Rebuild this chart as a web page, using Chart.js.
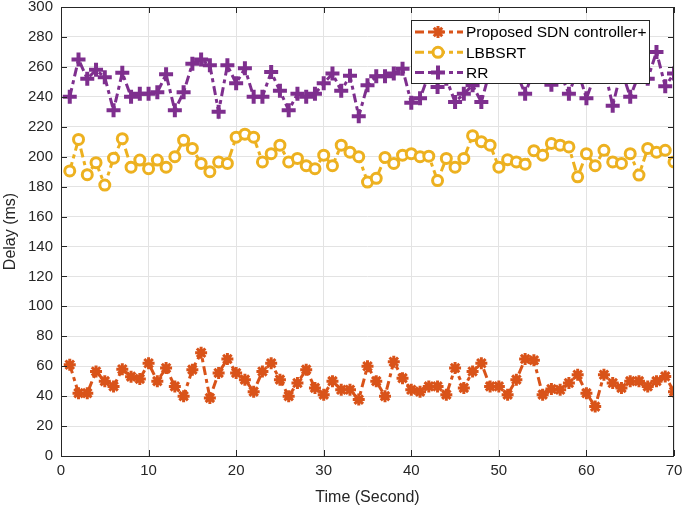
<!DOCTYPE html>
<html>
<head>
<meta charset="utf-8">
<title>Delay vs time</title>
<script src="https://cdn.jsdelivr.net/npm/chart.js@4.4.1/dist/chart.umd.min.js"></script>
<style>
  body { margin: 0; background: #fff; overflow: hidden; }
  #myChart { display: block; margin-top: -4px; }
</style>
</head>
<body>
<canvas id="myChart" width="685" height="515"></canvas>
<script>
'use strict';
// values, one per second
let seconds = [1, 2, 3, 4, 5, 6, 7, 8, 9, 10, 11, 12, 13, 14, 15, 16, 17, 18, 19, 20,
  21, 22, 23, 24, 25, 26, 27, 28, 29, 30, 31, 32, 33, 34, 35, 36, 37, 38, 39, 40,
  41, 42, 43, 44, 45, 46, 47, 48, 49, 50, 51, 52, 53, 54, 55, 56, 57, 58, 59, 60,
  61, 62, 63, 64, 65, 66, 67, 68, 69, 70];
let proposed = [61, 42, 42, 56.5, 50, 46.5, 58, 53, 51.5, 62, 50, 58.8, 46.5, 40, 57.7, 69, 38.8, 55.5, 64.8, 55.5,
  51, 43, 56.5, 62, 51, 40, 48.8, 57.7, 45.5, 41, 50, 44.3, 44.3, 37.7, 60, 50, 40, 63, 52, 44.3,
  43, 46.5, 46.5, 41, 58.8, 45.5, 56.5, 62, 46.5, 46.5, 41, 51, 64.8, 64, 41, 44.8, 44.3, 48.8, 54.3, 42,
  33, 54.3, 48.8, 45.5, 50, 50, 46.5, 50, 53.2, 43];
let lbbsrt = [190.5, 211.5, 188, 196, 181, 199, 212, 193, 197.7, 192, 197.7, 193, 200, 211, 205.5, 195.5, 190, 196.5, 195.5, 213,
  215, 213, 196.5, 202, 207.7, 196.5, 198.8, 194, 192, 201, 194, 207.7, 203, 200, 183, 185.5, 199.5, 195.5, 201, 202,
  200, 200.3, 184, 198.8, 193, 198.8, 214, 210, 207.7, 193, 198, 196.5, 195, 204, 201, 208.8, 207.7, 206.5, 186.5, 202,
  194, 204.3, 196.5, 195.5, 202, 187.7, 205.5, 203, 204.3, 196.5];
let rr = [240, 265, 252, 258, 253, 231, 256, 240, 242, 242, 243, 255, 231, 243, 262, 265, 261, 230, 261, 249,
  259, 240, 240, 256.5, 244, 231, 242, 240, 242, 249, 255.5, 244, 254, 227, 247.7, 253.7, 253.7, 255.5, 258.8, 236,
  239, 255, 246.5, 252, 236.5, 242, 247.7, 236.5, 258, 255, 260, 256, 242, 258, 262, 248, 256, 242, 258, 239,
  255, 260, 234, 258, 240, 255, 252, 270, 247, 255.5];
let xTicks = [0, 10, 20, 30, 40, 50, 60, 70];
let yTicks = [0, 20, 40, 60, 80, 100, 120, 140, 160, 180, 200, 220, 240, 260, 280, 300];

let seriesNames = ['Proposed SDN controller+', 'LBBSRT', 'RR'];
let seriesColors = ['#D95319', '#EDB120', '#7E2F8E'];
let seriesMarkers = ['star', 'circle', 'cross'];
let dashPattern = [9, 4, 4, 4];
let axisColor = '#262626';
let fontName = '"Liberation Sans", Arial, sans-serif';

function toPoints(values) {
  let pts = [];
  for (let i = 0; i < values.length; i++) {
    pts.push({ x: seconds[i], y: values[i] });
  }
  return pts;
}

function makeSet(i, values) {
  let set = {
    label: seriesNames[i],
    data: toPoints(values),
    borderColor: seriesColors[i],
    backgroundColor: seriesColors[i],
    borderWidth: 3,
    borderDash: dashPattern,
    pointStyle: seriesMarkers[i],
    pointBorderColor: seriesColors[i],
    pointBackgroundColor: seriesColors[i],
    pointBorderWidth: 3,
    pointRadius: 6,
    pointHoverRadius: 6,
    tension: 0
  };
  if (seriesMarkers[i] === 'circle') {
    set.pointBackgroundColor = '#ffffff';
    set.pointRadius = 5;
  }
  if (seriesMarkers[i] === 'cross') {
    set.pointRadius = 7;
    set.pointBorderWidth = 4;
  }
  return set;
}

function marker(ctx, style, x, y) {
  ctx.beginPath();
  if (style === 'circle') {
    ctx.arc(x, y, 5, 0, Math.PI * 2);
    ctx.fillStyle = '#ffffff';
    ctx.fill();
    ctx.lineWidth = 3;
    ctx.stroke();
    return;
  }
  if (style === 'cross') {
    ctx.lineWidth = 4;
    ctx.moveTo(x - 7, y); ctx.lineTo(x + 7, y);
    ctx.moveTo(x, y - 7); ctx.lineTo(x, y + 7);
    ctx.stroke();
    return;
  }
  ctx.lineWidth = 3;
  for (let k = 0; k < 4; k++) {
    let a = k * Math.PI / 4;
    ctx.moveTo(x - 6 * Math.cos(a), y - 6 * Math.sin(a));
    ctx.lineTo(x + 6 * Math.cos(a), y + 6 * Math.sin(a));
  }
  ctx.stroke();
}

// box, inward ticks and the legend sitting inside the axes
const framePlugin = {
  id: 'frame',
  afterDatasetsDraw(chart) {
    let ctx = chart.ctx;
    let a = chart.chartArea;
    let xs = chart.scales.x;
    let ys = chart.scales.y;
    ctx.save();
    ctx.setLineDash([]);
    ctx.strokeStyle = axisColor;
    ctx.lineWidth = 1;
    ctx.strokeRect(Math.round(a.left) + 0.5, Math.round(a.top) + 0.5,
      Math.round(a.right - a.left) - 1, Math.round(a.bottom - a.top));
    ctx.beginPath();
    xTicks.forEach(function (v) {
      let px = Math.round(xs.getPixelForValue(v)) + 0.5;
      ctx.moveTo(px, a.bottom); ctx.lineTo(px, a.bottom - 6);
      ctx.moveTo(px, a.top); ctx.lineTo(px, a.top + 6);
    });
    yTicks.forEach(function (v) {
      let py = Math.round(ys.getPixelForValue(v)) + 0.5;
      ctx.moveTo(a.left, py); ctx.lineTo(a.left + 6, py);
      ctx.moveTo(a.right, py); ctx.lineTo(a.right - 6, py);
    });
    ctx.stroke();

    let boxL = a.right - 263, boxT = a.top + 13, boxW = 238, boxH = 63;
    ctx.fillStyle = '#ffffff';
    ctx.fillRect(boxL, boxT, boxW, boxH);
    ctx.strokeStyle = axisColor;
    ctx.lineWidth = 1;
    ctx.strokeRect(boxL + 0.5, boxT + 0.5, boxW, boxH);
    for (let i = 0; i < seriesNames.length; i++) {
      let ly = boxT + 12 + i * 20.3;
      ctx.strokeStyle = seriesColors[i];
      ctx.lineWidth = 3;
      ctx.setLineDash(dashPattern);
      ctx.beginPath();
      ctx.moveTo(boxL + 4, ly);
      ctx.lineTo(boxL + 52, ly);
      ctx.stroke();
      ctx.setLineDash([]);
      marker(ctx, seriesMarkers[i], boxL + 27, ly);
      ctx.fillStyle = '#000000';
      ctx.font = '15.5px ' + fontName;
      ctx.textBaseline = 'middle';
      ctx.textAlign = 'left';
      ctx.fillText(seriesNames[i], boxL + 55, ly + 1);
    }
    ctx.restore();
  }
};

let ctx = document.getElementById('myChart').getContext('2d');
let myChart = new Chart(ctx, {
  type: 'line',
  data: {
    datasets: [makeSet(0, proposed), makeSet(1, lbbsrt), makeSet(2, rr)]
  },
  options: {
    responsive: false,
    animation: false,
    devicePixelRatio: 1,
    layout: { padding: { top: 4, right: 9, left: 0, bottom: 0 } },
    plugins: {
      legend: { display: false },
      tooltip: { enabled: false }
    },
    scales: {
      x: {
        type: 'linear',
        min: 0,
        max: 70,
        afterBuildTicks: function (scale) {
          scale.ticks = xTicks.map(function (v) { return { value: v }; });
        },
        afterFit: function (scale) {
          scale.height = 55;
          scale.paddingLeft = 0;
          scale.paddingRight = 0;
        },
        grid: { color: '#e3e3e3', drawTicks: false },
        border: { display: false },
        ticks: {
          color: axisColor,
          padding: 6,
          maxRotation: 0,
          font: { family: fontName, size: 15 }
        },
        title: {
          display: true,
          text: 'Time (Second)',
          color: axisColor,
          padding: { top: 4, bottom: 4 },
          font: { family: fontName, size: 16 }
        }
      },
      y: {
        min: 0,
        max: 300,
        afterBuildTicks: function (scale) {
          scale.ticks = yTicks.map(function (v) { return { value: v }; });
        },
        afterFit: function (scale) {
          scale.width = 61;
          scale.paddingTop = 0;
          scale.paddingBottom = 0;
        },
        grid: { color: '#e3e3e3', drawTicks: false },
        border: { display: false },
        ticks: {
          color: axisColor,
          padding: 8,
          font: { family: fontName, size: 15 }
        },
        title: {
          display: true,
          text: 'Delay (ms)',
          color: axisColor,
          padding: { top: 1, bottom: 1 },
          font: { family: fontName, size: 16 }
        }
      }
    }
  },
  plugins: [framePlugin]
});
</script>
</body>
</html>
